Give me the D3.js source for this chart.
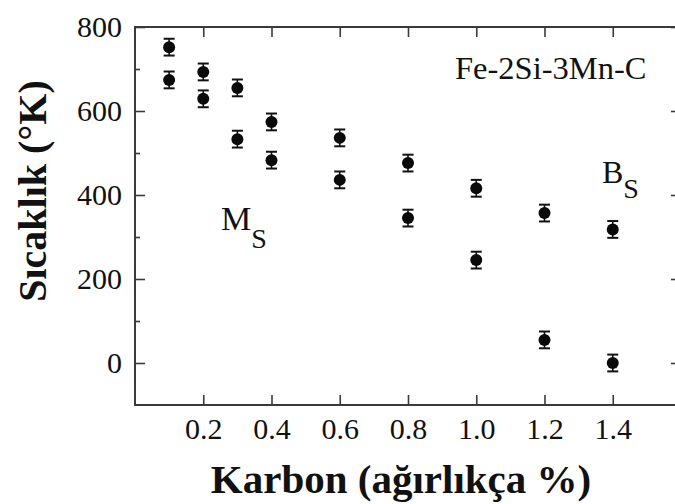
<!DOCTYPE html>
<html>
<head>
<meta charset="utf-8">
<script src="https://cdn.jsdelivr.net/npm/d3@7"></script>
<style>
html,body{margin:0;padding:0;background:#fff;}
svg{display:block;}
</style>
</head>
<body>
<svg id="chart" width="675" height="504"></svg>
<script>
const carbon = [0.1, 0.2, 0.3, 0.4, 0.6, 0.8, 1.0, 1.2, 1.4];
const bsTemp = [752, 693, 655, 574, 536, 476, 416, 357, 318];
const msTemp = [674, 629, 533, 483, 436, 345, 245, 55, 0];
const errHalf = 20;
const xTicks = [0.2, 0.4, 0.6, 0.8, 1.0, 1.2, 1.4];
const yMajor = [0, 200, 400, 600, 800];
const yMinor = [100, 300, 500, 700];

const FONT = "'Liberation Serif', 'Times New Roman', Times, 'DejaVu Serif', serif";
const svg = d3.select("#chart");
const x = d3.scaleLinear().domain([0, 1.6]).range([135, 681]);
const y = d3.scaleLinear().domain([-100, 800]).range([405, 27]);
const axisColor = "#3a3a3a";

const g = svg.append("g");
g.append("rect")
  .attr("x", x(0)).attr("y", y(800))
  .attr("width", x(1.6) - x(0)).attr("height", y(-100) - y(800))
  .attr("fill", "none").attr("stroke", axisColor).attr("stroke-width", 2);

function styleAxis(sel){
  sel.attr("font-family", null).attr("font-size", null);
  sel.select(".domain").remove();
  sel.selectAll(".tick line").attr("stroke", axisColor).attr("stroke-width", 1.6);
  sel.selectAll(".tick text").style("font-size", "30px").style("font-family", FONT).attr("fill", "#111");
}

const bx = g.append("g").attr("transform", `translate(0,${y(-100)})`)
  .call(d3.axisBottom(x).tickValues(xTicks).tickSize(-10).tickPadding(13)
    .tickFormat(d3.format(".1f")));
styleAxis(bx);
const tx = g.append("g").attr("transform", `translate(0,${y(800)})`)
  .call(d3.axisTop(x).tickValues(xTicks).tickSize(-10).tickFormat(""));
styleAxis(tx);
const ly = g.append("g").attr("transform", `translate(${x(0)},0)`)
  .call(d3.axisLeft(y).tickValues(yMajor).tickSize(-10).tickPadding(13).tickFormat(d3.format("d")));
styleAxis(ly);
const lym = g.append("g").attr("transform", `translate(${x(0)},0)`)
  .call(d3.axisLeft(y).tickValues(yMinor).tickSize(-5).tickFormat(""));
styleAxis(lym);
const ry = g.append("g").attr("transform", `translate(${x(1.6)},0)`)
  .call(d3.axisRight(y).tickValues(yMajor).tickSize(-10).tickFormat(""));
styleAxis(ry);
const rym = g.append("g").attr("transform", `translate(${x(1.6)},0)`)
  .call(d3.axisRight(y).tickValues(yMinor).tickSize(-5).tickFormat(""));
styleAxis(rym);

const series = [bsTemp, msTemp];
series.forEach(vals => {
  const pts = carbon.map((c, i) => ({c, v: vals[i]}));
  const s = g.append("g");
  s.selectAll("line.err").data(pts).join("line")
    .attr("x1", d => x(d.c)).attr("x2", d => x(d.c))
    .attr("y1", d => y(d.v - errHalf)).attr("y2", d => y(d.v + errHalf))
    .attr("stroke", "#111").attr("stroke-width", 1.6);
  [-1, 1].forEach(sgn => {
    s.selectAll(null).data(pts).join("line")
      .attr("x1", d => x(d.c) - 5.5).attr("x2", d => x(d.c) + 5.5)
      .attr("y1", d => y(d.v + sgn * errHalf)).attr("y2", d => y(d.v + sgn * errHalf))
      .attr("stroke", "#111").attr("stroke-width", 2);
  });
  s.selectAll("circle").data(pts).join("circle")
    .attr("cx", d => x(d.c)).attr("cy", d => y(d.v)).attr("r", 6)
    .attr("fill", "#0a0a0a");
});

function txt(sel){ return sel.style("font-family", FONT).attr("fill", "#111"); }

txt(g.append("text").attr("x", 455).attr("y", 79).style("font-size", "32.5px"))
  .text("Fe-2Si-3Mn-C");
const ms = txt(g.append("text").attr("x", 221).attr("y", 230).style("font-size", "34px"));
ms.append("tspan").text("M");
ms.append("tspan").attr("dy", 18).style("font-size", "28px").text("S");
const bs = txt(g.append("text").attr("x", 602).attr("y", 183).style("font-size", "32px"));
bs.append("tspan").text("B");
bs.append("tspan").attr("dy", 15).style("font-size", "28px").text("S");

txt(svg.append("text").attr("x", 401).attr("y", 493).attr("text-anchor", "middle")
  .style("font-size", "41px").style("font-weight", "bold"))
  .text("Karbon (ağırlıkça %)");
txt(svg.append("text").attr("transform", "translate(46,191) rotate(-90)")
  .attr("text-anchor", "middle")
  .style("font-size", "40px").style("font-weight", "bold"))
  .text("Sıcaklık (°K)");
</script>
</body>
</html>
